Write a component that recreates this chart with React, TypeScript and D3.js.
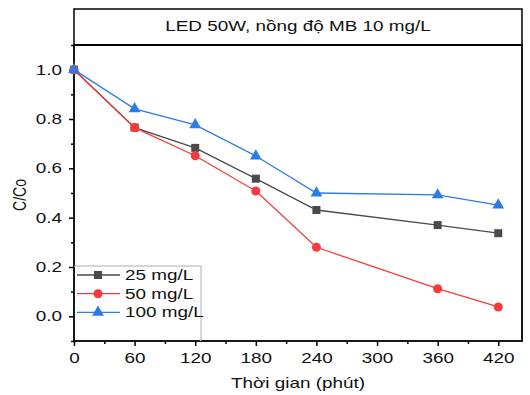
import { useEffect, useRef } from "react";
import * as d3 from "d3";

const times = [0, 60, 120, 180, 240, 360, 420];
const s25 = [1.0, 0.765, 0.683, 0.558, 0.431, 0.37, 0.337];
const s50 = [1.0, 0.765, 0.651, 0.508, 0.28, 0.112, 0.038];
const s100 = [1.0, 0.841, 0.776, 0.65, 0.5, 0.492, 0.451];
const xTicks = [0, 60, 120, 180, 240, 300, 360, 420];
const yTicks = [0, 0.2, 0.4, 0.6, 0.8, 1.0];

const series = [
  { name: "25 mg/L", values: s25, color: "#4a4a4a", shape: "square" },
  { name: "50 mg/L", values: s50, color: "#f53b3b", shape: "circle" },
  { name: "100 mg/L", values: s100, color: "#2d7be6", shape: "triangle" },
];

const symbolOf = (shape: string) =>
  shape === "square" ? d3.symbolSquare : shape === "circle" ? d3.symbolCircle : d3.symbolTriangle;

// the source picture is stretched sideways, so text is too
const SX = 1.35;

export default function App() {
  const ref = useRef<SVGSVGElement>(null);

  useEffect(() => {
    const svg = d3.select(ref.current);
    svg.selectAll("*").remove();
    const font = "Liberation Sans, Arial, sans-serif";
    const fs = 14;

    const left = 74, right = 522, top = 45, bottom = 341;
    const x = d3.scaleLinear().domain([0, 443.5]).range([left, right]);
    const y = d3.scaleLinear().domain([-0.1, 1.1]).range([bottom, top]);

    const label = (tx: number, ty: number, txt: string, anchor = "middle", rot = 0) =>
      svg.append("text")
        .attr("transform", `translate(${tx},${ty}) scale(${SX},1)${rot ? ` rotate(${rot})` : ""}`)
        .attr("text-anchor", anchor).attr("font-family", font).attr("font-size", fs).attr("fill", "#111").text(txt);

    // title box
    svg.append("rect").attr("x", left).attr("y", 9).attr("width", right - left).attr("height", top - 9)
      .attr("fill", "none").attr("stroke", "#000").attr("stroke-width", 1.5);
    label((left + right) / 2, 31, "LED 50W, nồng độ MB 10 mg/L");

    // axes
    const yAxis = svg.append("g").attr("transform", `translate(${left},0)`)
      .call(d3.axisLeft(y).tickValues(yTicks).tickFormat(d3.format(".1f")).tickSize(5).tickSizeOuter(0));
    svg.append("g").attr("transform", `translate(${left},0)`)
      .call(d3.axisLeft(y).tickValues([-0.1, 0.1, 0.3, 0.5, 0.7, 0.9, 1.1]).tickFormat(() => "").tickSize(3).tickSizeOuter(0));
    const xAxis = svg.append("g").attr("transform", `translate(0,${bottom})`)
      .call(d3.axisBottom(x).tickValues(xTicks).tickFormat(d3.format("d")).tickSize(5).tickSizeOuter(0));
    svg.append("g").attr("transform", `translate(0,${bottom})`)
      .call(d3.axisBottom(x).tickValues([30, 90, 150, 210, 270, 330, 390]).tickFormat(() => "").tickSize(3).tickSizeOuter(0));
    svg.selectAll(".domain").remove();
    svg.selectAll(".tick line").attr("stroke-width", 1.5);
    [yAxis, xAxis].forEach((g) => g.selectAll("text").attr("font-family", font).attr("font-size", fs).attr("fill", "#111"));
    yAxis.selectAll("text").attr("x", 0).attr("transform", `translate(-12,0) scale(${SX},1)`);
    xAxis.selectAll("text").attr("y", 0).attr("transform", `translate(0,12) scale(${SX},1)`);

    // frame
    svg.append("rect").attr("x", left).attr("y", top).attr("width", right - left).attr("height", bottom - top)
      .attr("fill", "none").attr("stroke", "#000").attr("stroke-width", 1.8);

    const line = d3.line<number>().x((_, i) => x(times[i])).y((d) => y(d));
    series.forEach((s) => {
      svg.append("path").attr("d", line(s.values)).attr("fill", "none").attr("stroke", s.color).attr("stroke-width", 1.3);
      svg.selectAll(null).data(s.values).enter().append("path")
        .attr("transform", (d, i) => `translate(${x(times[i])},${y(d)})`)
        .attr("d", d3.symbol().type(symbolOf(s.shape)).size(s.shape === "triangle" ? 60 : 64)())
        .attr("fill", s.color);
    });

    // axis labels
    label(26, 195, "C/Co", "middle", -90);
    label((left + right) / 2, 388, "Thời gian (phút)");

    // legend
    const lg = svg.append("g");
    lg.append("path").attr("d", `M${left},266H201V${bottom}`).attr("fill", "#fff").attr("stroke", "#999").attr("stroke-width", 0.8);
    series.forEach((s, i) => {
      const ly = 275 + i * 18.7;
      lg.append("line").attr("x1", 77).attr("x2", 120).attr("y1", ly).attr("y2", ly).attr("stroke", s.color).attr("stroke-width", 1.3);
      lg.append("path").attr("transform", `translate(98,${ly})`)
        .attr("d", d3.symbol().type(symbolOf(s.shape)).size(s.shape === "triangle" ? 60 : 64)()).attr("fill", s.color);
      lg.append("text").attr("transform", `translate(125,${ly + 5}) scale(${SX},1)`)
        .attr("font-family", font).attr("font-size", fs).attr("fill", "#111").text(s.name);
    });
  }, []);

  return <svg ref={ref} width={530} height={395} style={{ position: "absolute", left: 0, top: 0, background: "#fff" }} />;
}
